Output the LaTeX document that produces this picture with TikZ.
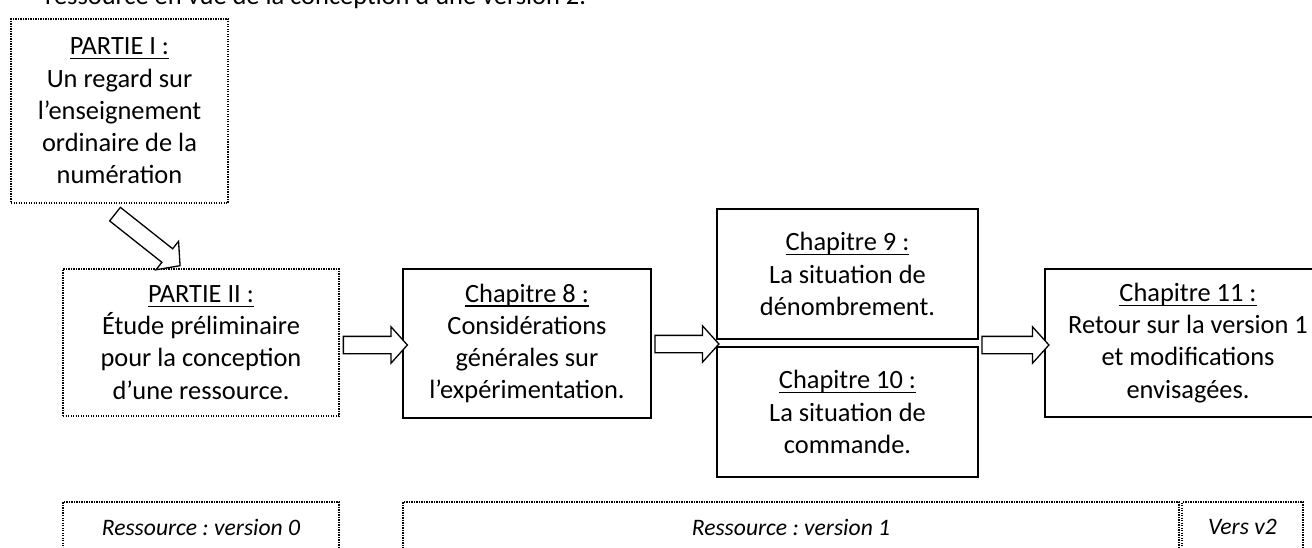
\documentclass[tikz,border=0pt]{standalone}
\usepackage{fontspec}
\setmainfont{Carlito}
\frenchspacing
\usetikzlibrary{shapes.arrows}
\newcommand\ulx[1]{\setbox0\hbox{#1}\rlap{\rule[-4.5pt]{\wd0}{1.3pt}}\box0}
\tikzset{
  boxtxt/.style={align=center, inner sep=0pt, font=\fontsize{26.4}{32.2}\selectfont},
  solidbox/.style={boxtxt, draw, line width=1.3pt},
  dotbox/.style={boxtxt, draw, line width=1.8pt, dash pattern=on 1.3pt off 1.2pt},
  resbox/.style={dotbox, font=\fontsize{23.6}{28}\selectfont\itshape},
  barrow/.style={single arrow, draw, fill=white, line width=1.3pt, inner xsep=0pt, inner ysep=8pt,
    single arrow head extend=9.5pt, single arrow tip angle=96},
}
\begin{document}
\begin{tikzpicture}[x=1pt,y=-1pt]
\useasboundingbox (0,0) rectangle (1312,548);
\clip (0,0) rectangle (1312,548);
\fill[white] (0,0) rectangle (1312,548);

\node[boxtxt, anchor=base west] (top) at (45,5) {ressource en vue de la conception d’une version 2.};

\node[dotbox, minimum width=217pt, minimum height=184pt] (P1) at (119.5,111)
  {\ulx{PARTIE I :}\\Un regard sur\\l’enseignement\\ordinaire de la\\numération};
\node[dotbox, minimum width=276pt, minimum height=147pt] (P2) at (201,342.5)
  {\ulx{PARTIE II :}\\Étude préliminaire\\pour la conception\\d’une ressource.};
\node[solidbox, minimum width=248pt, minimum height=149pt] (C8) at (527,343.5)
  {\ulx{Chapitre 8 :}\\Considérations\\générales sur\\l’expérimentation.};
\node[solidbox, minimum width=261pt, minimum height=130pt] (C9) at (847.5,274)
  {\ulx{Chapitre 9 :}\\La situation de\\dénombrement.};
\node[solidbox, minimum width=261pt, minimum height=130pt] (C10) at (847.5,412)
  {\ulx{Chapitre 10 :}\\La situation de\\commande.};
\node[solidbox, minimum width=286pt, minimum height=148pt] (C11) at (1188,343)
  {\ulx{Chapitre 11 :}\\Retour sur la version 1\\et modifications\\envisagées.};

\node[resbox, minimum width=276pt, minimum height=50pt] (R0) at (201,527) {Ressource : version 0};
\node[resbox, minimum width=776pt, minimum height=50pt] (R1) at (791,527) {Ressource : version 1};
\node[resbox, minimum width=121pt, minimum height=50pt] (R2) at (1242.5,527) {Vers v2};

\node[barrow, minimum height=83pt, rotate=-38.4] (A1) at (144.5,237.5) {};
\node[barrow, minimum height=64pt] (A2) at (371.5,345) {};
\node[barrow, minimum height=64pt] (A3) at (683,344) {};
\node[barrow, minimum height=67pt] (A4) at (1011.5,345) {};
\end{tikzpicture}
\end{document}
